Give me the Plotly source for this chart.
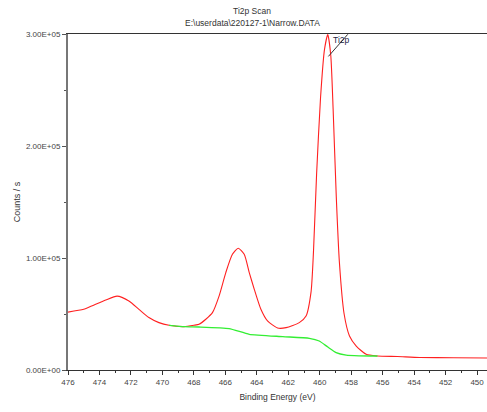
import plotly.graph_objects as go

# Binding energy (eV) and counts/s for the Ti2p spectrum (red)
be_spec = [476.0, 475.0, 474.5, 473.6, 472.88, 472.13, 471.49, 470.86, 470.22, 469.58,
           468.63, 467.99, 467.67, 467.24, 466.82, 466.40, 465.97, 465.55, 465.18, 464.80,
           464.48, 464.16, 463.74, 463.32, 462.68, 462.14, 461.30, 460.87, 460.55, 460.40,
           460.20, 459.95, 459.70, 459.49, 459.30, 459.15, 458.95, 458.75, 458.45, 458.11,
           457.68, 457.05, 456.33, 455.07, 453.65, 451.5, 449.37]
counts_spec = [51700, 54200, 57100, 62500, 66000, 61600, 54200, 46800, 42300, 39900,
               38700, 39900, 40800, 45300, 51200, 66000, 87000, 103300, 108700, 103300,
               87000, 72000, 54200, 43800, 37500, 37800, 42300, 48200, 70000, 105000,
               175000, 243000, 286000, 299500, 281000, 233000, 155000, 96000, 50000, 30400,
               21400, 14000, 12500, 12000, 11200, 10900, 10700]

# Shirley background (green)
be_bg = [469.58, 468.63, 467.67, 465.76, 464.48, 462.35, 460.66, 460.03, 459.49, 458.96,
         458.32, 457.5, 456.33]
counts_bg = [39900, 38700, 38400, 37000, 31900, 29800, 28300, 25900, 20500, 15500,
             13300, 12700, 12500]

x_ticks = [476, 474, 472, 470, 468, 466, 464, 462, 460, 458, 456, 454, 452, 450]
x_minor = list(range(450, 477))
y_tickvals = [0, 100000, 200000, 300000]
y_ticktext = ["0.00E+00", "1.00E+05", "2.00E+05", "3.00E+05"]
y_minor = [50000, 150000, 250000]

peak_label = "Ti2p"
peak_line_x = [459.45, 458.22]
peak_line_y = [280000, 299700]
peak_text_x = 458.62
peak_text_y = 295000

title_main = "Ti2p Scan"
title_sub = "E:\\userdata\\220127-1\\Narrow.DATA"

FONT = "Liberation Sans, Arial, sans-serif"
W, H = 487, 412
L, R, T, B = 68, 0, 34, 42
plot_w = W - L - R
plot_h = H - T - B


def px_to_paper(xp, yp):
    return (xp - L) / plot_w, (H - B - yp) / plot_h


fig = go.Figure()
fig.add_trace(go.Scatter(x=be_spec, y=counts_spec, mode="lines",
                         line=dict(color="#ff2020", width=1.1, shape="spline", smoothing=0.6),
                         showlegend=False, hoverinfo="skip"))
fig.add_trace(go.Scatter(x=be_bg, y=counts_bg, mode="lines",
                         line=dict(color="#33ee33", width=1.3, shape="spline", smoothing=0.5),
                         showlegend=False, hoverinfo="skip"))

fig.add_shape(type="line", xref="x", yref="y",
              x0=peak_line_x[0], y0=peak_line_y[0], x1=peak_line_x[1], y1=peak_line_y[1],
              line=dict(color="#333333", width=1))
fig.add_annotation(x=peak_text_x, y=peak_text_y, xref="x", yref="y",
                   text=peak_label, showarrow=False,
                   font=dict(family=FONT, size=8.5, color="#222244"))

for txt, yp in [(title_main, 11), (title_sub, 23)]:
    xpp, ypp = px_to_paper(252, yp)
    fig.add_annotation(x=xpp, y=ypp, xref="paper", yref="paper", text=txt,
                       showarrow=False, xanchor="center", yanchor="middle",
                       font=dict(family=FONT, size=8.5, color="#333333"))

fig.update_layout(
    width=W, height=H,
    margin=dict(l=L, r=R, t=T, b=B),
    paper_bgcolor="white", plot_bgcolor="white",
    font=dict(family=FONT, size=8, color="#333333"),
)

fig.update_xaxes(
    range=[476, 449.37], tickvals=x_ticks, ticktext=[str(v) for v in x_ticks],
    ticks="outside", ticklen=4, tickcolor="#333333", tickwidth=1,
    showline=True, linecolor="#333333", linewidth=1, mirror=True,
    showgrid=False, zeroline=False,
    minor=dict(tickvals=x_minor, ticks="outside", ticklen=2, tickcolor="#333333"),
    tickfont=dict(size=8, color="#444444"),
    title=dict(text="Binding Energy (eV)", font=dict(size=8.5, color="#333333"), standoff=8),
)
fig.update_yaxes(
    range=[0, 300000], tickvals=y_tickvals, ticktext=y_ticktext,
    ticks="outside", ticklen=4, tickcolor="#555555", tickwidth=1,
    showline=True, linecolor="#777777", linewidth=2, mirror=False,
    showgrid=False, zeroline=False,
    minor=dict(tickvals=y_minor, ticks="outside", ticklen=2, tickcolor="#555555"),
    tickfont=dict(size=8, color="#444444"),
    title=dict(text="Counts / s", font=dict(size=9, color="#333333"), standoff=4),
)

fig.write_html("out.html")
